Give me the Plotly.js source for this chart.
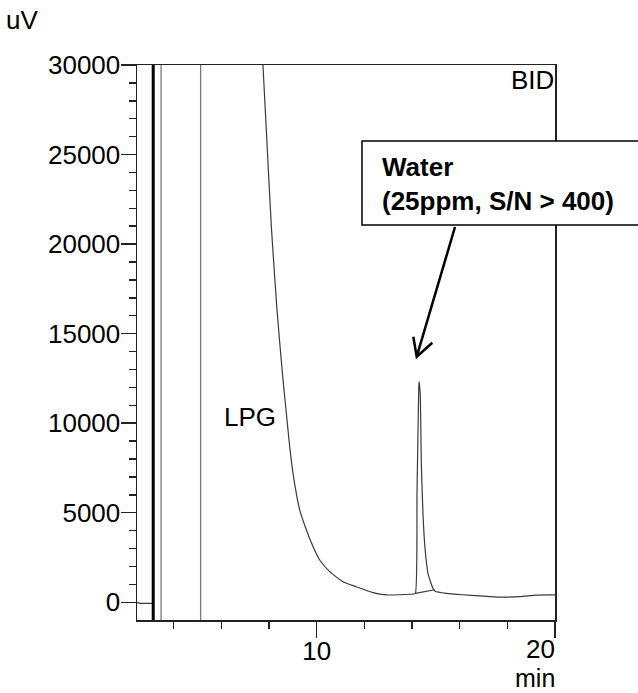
<!DOCTYPE html>
<html>
<head>
<meta charset="utf-8">
<script src="https://cdn.plot.ly/plotly-3.0.1.min.js"></script>
<style>html,body{margin:0;padding:0;background:#fff;}#chart{width:638px;height:693px;}</style>
</head>
<body>
<div id="chart"></div>
<script>
// ---- data ----
const retentionTime = [2.46, 2.6, 2.9, 3.13, null,
  7.70, 7.745, 7.915, 8.097, 8.334, 8.586, 8.728, 8.867, 9.006, 9.287, 9.568, 9.846, 10.126,
  10.546, 11.10, 11.66, 12.36, 12.92, 13.48, 14.04, 14.14, 14.21, 14.28, 14.293, 14.31, 14.35,
  14.39, 14.46, 14.54, 14.67, 14.88, 14.97, 15.44, 16.14, 16.84, 17.68, 18.52, 19.22, 19.92, 20.0];
const signalUV = [-20, -60, -60, -60, null,
  31000, 30000, 25620, 20980, 16330, 12430, 10540, 8690, 7200, 5160, 4040, 3110, 2360,
  1710, 1150, 870, 540, 410, 420, 460, 500, 6200, 11800, 12320, 12200, 11480,
  7760, 4960, 3100, 1610, 770, 620, 500, 420, 360, 290, 310, 400, 410, 410];
const peakBaselineTime = [14.14, 14.96];
const peakBaselineUV = [500, 700];
const offScaleSpikesMain = [3.14];          // thick black
const offScaleSpikesMinor = [3.47, 5.13];   // thin grey
const xTickVals = [10, 20];
const xTickText = ['10', '20'];
const yTickVals = [0, 5000, 10000, 15000, 20000, 25000, 30000];
const yTickText = ['0', '5000', '10000', '15000', '20000', '25000', '30000'];
const peakLabel = 'LPG';
const detectorLabel = 'BID';
const calloutLines = ['Water', '(25ppm, S/N &gt; 400)'];

// ---- layout geometry (pixels) ----
const W = 638, H = 693;
const L = 137, R = 555, T = 65, B = 620;
const px2x = p => (p - L) / (R - L);
const py2y = p => (B - p) / (B - T);
const FONT = 'Liberation Sans, Arial, sans-serif';

function spikes(xs) {
  const x = [], y = [];
  xs.forEach(v => { x.push(v, v, null); y.push(-5000, 40000, null); });
  return {x, y};
}
const s1 = spikes(offScaleSpikesMain), s2 = spikes(offScaleSpikesMinor);

const traces = [
  {x: retentionTime, y: signalUV, type: 'scatter', mode: 'lines',
   line: {color: '#3a3a3a', width: 1.2, shape: 'spline', smoothing: 0.5}, connectgaps: false, hoverinfo: 'skip'},
  {x: peakBaselineTime, y: peakBaselineUV, type: 'scatter', mode: 'lines',
   line: {color: '#3a3a3a', width: 1.2}, hoverinfo: 'skip'},
  {x: s1.x, y: s1.y, type: 'scatter', mode: 'lines', line: {color: '#000', width: 3}, hoverinfo: 'skip'},
  {x: s2.x, y: s2.y, type: 'scatter', mode: 'lines', line: {color: '#7a7a7a', width: 1.3}, hoverinfo: 'skip'}
];

// arrow geometry (pixels)
const tail = [455, 227], tip = [416.7, 356.7], arm1 = [413.3, 336.7], arm2 = [432.3, 342.7];
const P = p => px2x(p[0]) + ' ' + py2y(p[1]);

const layout = {
  width: W, height: H,
  margin: {l: L, r: W - R, t: T, b: H - B, pad: 0},
  paper_bgcolor: '#fff', plot_bgcolor: '#fff',
  showlegend: false,
  font: {family: FONT, size: 26, color: '#000'},
  xaxis: {
    range: [2.46, 20], showgrid: false, zeroline: false,
    showline: true, linecolor: '#222', linewidth: 1.5, mirror: true,
    ticks: 'outside', ticklen: 16, tickwidth: 1.5, tickcolor: '#222',
    tickmode: 'array', tickvals: xTickVals,
    ticktext: xTickText.map((s, i) => i === xTickText.length - 1 ? '' : s),
    ticklabelstandoff: -9,
    tickfont: {family: FONT, size: 26, color: '#000'},
    minor: {dtick: 2, tick0: 0, ticks: 'outside', ticklen: 7, tickwidth: 1.5, tickcolor: '#222', showgrid: false}
  },
  yaxis: {
    range: [-990, 30000], showgrid: false, zeroline: false,
    showline: true, linecolor: '#222', linewidth: 1.5, mirror: true,
    ticks: 'outside', ticklen: 15, tickwidth: 1.5, tickcolor: '#222',
    tickmode: 'array', tickvals: yTickVals, ticktext: yTickText,
    ticklabelstandoff: -5,
    tickfont: {family: FONT, size: 26, color: '#000'},
    minor: {dtick: 1000, tick0: 0, ticks: 'outside', ticklen: 7, tickwidth: 1.5, tickcolor: '#222', showgrid: false}
  },
  shapes: [
    {type: 'rect', xref: 'paper', yref: 'paper', layer: 'above',
     x0: px2x(362), x1: px2x(720), y0: py2y(225), y1: py2y(141),
     fillcolor: '#fff', line: {color: '#000', width: 1.5}},
    {type: 'path', xref: 'paper', yref: 'paper', layer: 'above',
     path: 'M ' + P(tail) + ' L ' + P(tip) + ' M ' + P(arm1) + ' L ' + P(tip) + ' L ' + P(arm2),
     line: {color: '#000', width: 2.5}}
  ],
  annotations: [
    {xref: 'paper', yref: 'paper', x: px2x(4), y: py2y(20), xanchor: 'left', yanchor: 'middle',
     text: 'uV', showarrow: false, font: {family: FONT, size: 26, color: '#000'}},
    {xref: 'paper', yref: 'paper', x: px2x(556), y: py2y(80), xanchor: 'right', yanchor: 'middle',
     text: detectorLabel, showarrow: false, font: {family: FONT, size: 26, color: '#000'}},
    {xref: 'paper', yref: 'paper', x: px2x(250), y: py2y(417), xanchor: 'center', yanchor: 'middle',
     text: peakLabel, showarrow: false, font: {family: FONT, size: 26, color: '#000'}},
    {xref: 'x', yref: 'paper', x: xTickVals[xTickVals.length - 1], y: py2y(649), xanchor: 'right', yanchor: 'middle',
     xshift: 1, borderpad: 0, text: xTickText[xTickText.length - 1], showarrow: false, font: {family: FONT, size: 26, color: '#000'}},
    {xref: 'paper', yref: 'paper', x: px2x(556), y: py2y(693), xanchor: 'right', yanchor: 'bottom',
     text: 'min', showarrow: false, borderpad: 0, font: {family: FONT, size: 25, color: '#000'}},
    {xref: 'paper', yref: 'paper', x: px2x(380), y: py2y(184), xanchor: 'left', yanchor: 'middle', align: 'left',
     text: calloutLines.map(s => '<b>' + s + '</b>').join('<br>'), showarrow: false,
     font: {family: FONT, size: 26, color: '#000'}}
  ]
};

Plotly.newPlot('chart', traces, layout, {staticPlot: true, displayModeBar: false});
</script>
</body>
</html>
